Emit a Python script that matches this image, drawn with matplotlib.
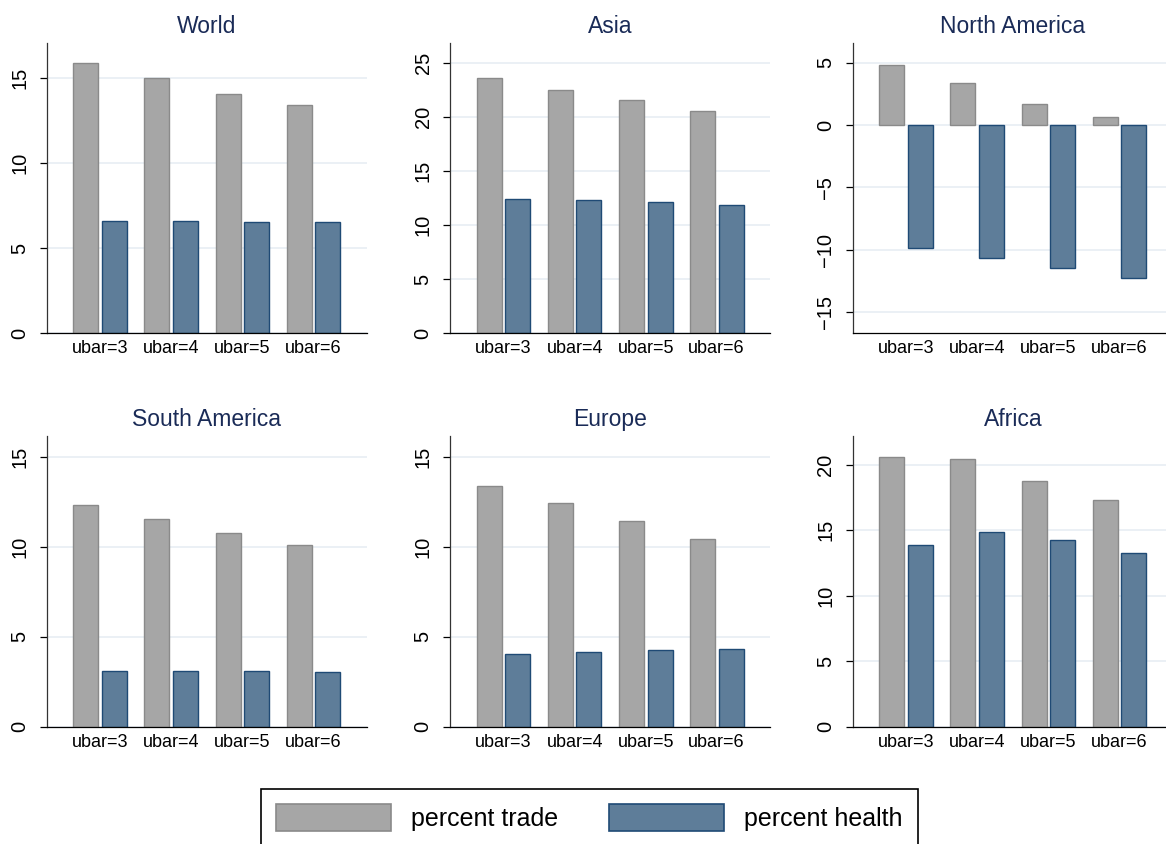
import numpy as np
import matplotlib.pyplot as plt
from matplotlib.patches import Patch

plt.rcParams['font.family'] = ['Liberation Sans', 'DejaVu Sans']

# Scenario labels and regional results
groups = ['ubar=3', 'ubar=4', 'ubar=5', 'ubar=6']
regions = ['World', 'Asia', 'North America', 'South America', 'Europe', 'Africa']

trade_world = [15.87, 15.0, 14.08, 13.43]
health_world = [6.57, 6.57, 6.51, 6.55]
trade_asia = [23.67, 22.56, 21.58, 20.62]
health_asia = [12.45, 12.30, 12.11, 11.90]
trade_namerica = [4.81, 3.34, 1.71, 0.67]
health_namerica = [-9.87, -10.67, -11.47, -12.27]
trade_samerica = [12.33, 11.56, 10.78, 10.11]
health_samerica = [3.11, 3.11, 3.11, 3.06]
trade_europe = [13.39, 12.44, 11.44, 10.44]
health_europe = [4.06, 4.15, 4.24, 4.30]
trade_africa = [20.56, 20.41, 18.78, 17.28]
health_africa = [13.85, 14.84, 14.23, 13.28]

trade = [trade_world, trade_asia, trade_namerica, trade_samerica, trade_europe, trade_africa]
health = [health_world, health_asia, health_namerica, health_samerica, health_europe, health_africa]

ylims = [(0, 17.07), (0, 26.9), (-16.7, 6.6), (0, 16.15), (0, 16.15), (0, 22.2)]
yticks = [np.arange(0, 16, 5), np.arange(0, 26, 5), np.arange(-15, 6, 5),
          np.arange(0, 16, 5), np.arange(0, 16, 5), np.arange(0, 21, 5)]

trade_fc, trade_ec = '#a6a6a6', '#8a8a8a'
health_fc, health_ec = '#5e7d99', '#1f4a75'
title_color = '#1a2b57'
grid_color = '#e8eef3'

W, H = 1166, 844
fig = plt.figure(figsize=(W / 100, H / 100), dpi=100)

lefts = [46.7, 450, 852.7]
tops = [42.7, 436]
aw, ah = 320.3, 290.6

x = np.arange(len(groups))
bw = 0.352
off = 0.202

for i, name in enumerate(regions):
    r, c = divmod(i, 3)
    ax = fig.add_axes([lefts[c] / W, 1 - (tops[r] + ah) / H, aw / W, ah / H])
    ax.set_axisbelow(True)
    ax.bar(x - off, trade[i], bw, color=trade_fc, edgecolor=trade_ec, linewidth=1.0)
    ax.bar(x + off, health[i], bw, color=health_fc, edgecolor=health_ec, linewidth=1.0)
    ax.set_xlim(-0.755, 3.755)
    ax.set_ylim(*ylims[i])
    ax.set_yticks(yticks[i])
    ax.set_xticks(x)
    ax.set_xticklabels(groups, fontsize=13)
    ax.tick_params(axis='x', length=0, pad=5)
    ax.tick_params(axis='y', length=5, width=0.9, pad=7.5, labelsize=14.5)
    for lab in ax.get_yticklabels():
        lab.set_rotation(90)
        lab.set_va('center')
    ax.yaxis.grid(True, color=grid_color, linewidth=1.2)
    for s in ['top', 'right']:
        ax.spines[s].set_visible(False)
    ax.spines['left'].set_linewidth(0.9)
    ax.spines['left'].set_color('#333333')
    ax.spines['bottom'].set_linewidth(0.9)
    ax.set_title(name, fontsize=16.5, color=title_color, pad=7)

handles = [Patch(facecolor=trade_fc, edgecolor=trade_ec, linewidth=1.2),
           Patch(facecolor=health_fc, edgecolor=health_ec, linewidth=1.2)]
leg = fig.legend(handles, ['percent trade', 'percent health'], loc='center',
                 bbox_to_anchor=(589.5 / W, 1 - 817.5 / H), ncol=2, fontsize=18,
                 handlelength=4.6, handleheight=1.3, handletextpad=0.8,
                 columnspacing=2.05, borderpad=0.6, fancybox=False, framealpha=1)
leg.get_frame().set_edgecolor('black')
leg.get_frame().set_linewidth(1.2)

plt.savefig('out.png', dpi=100)
